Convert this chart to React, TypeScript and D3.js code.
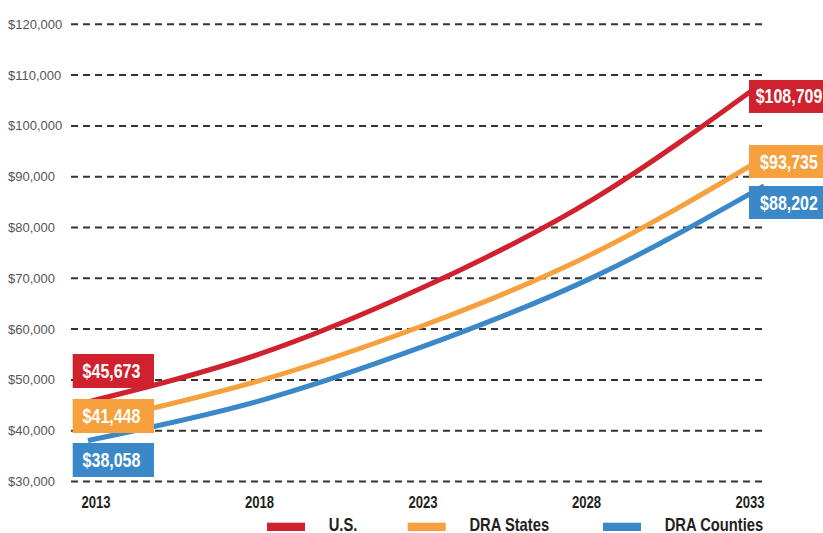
import React from "react";
import * as d3 from "d3";

// ---- data ----
const years = [2013, 2018, 2023, 2028, 2033];
const usValues = [45673, 54920, 68470, 85780, 108709];
const draStatesValues = [41448, 49700, 60910, 75060, 93735];
const draCountiesValues = [38058, 45730, 56780, 70380, 88202];
const seriesNames = ["U.S.", "DRA States", "DRA Counties"];
const yTicks = [30000, 40000, 50000, 60000, 70000, 80000, 90000, 100000, 110000, 120000];
const xTickLabels = ["2013", "2018", "2023", "2028", "2033"];

// ---- layout / style ----
const W = 823;
const H = 533;
const COLORS = ["#CF212E", "#F6A03E", "#3B88C8"];
const SANS = "'Liberation Sans', Arial, Helvetica, sans-serif";
const NARROW_SCALE = 0.82;
// label box offsets relative to line endpoints (layout)
const startOffsets = [-30.9, -7.3, 19.4];
const endOffsets = [14.8, 3.8, 16.7];
const legendX = [267, 407.7, 603];

function NarrowText(props: {
  x: number;
  y: number;
  size: number;
  fill: string;
  anchor?: string;
  children: React.ReactNode;
}) {
  const { x, y, size, fill, anchor, children } = props;
  return (
    <text
      transform={`translate(${x},${y}) scale(${NARROW_SCALE},1)`}
      textAnchor={anchor || "start"}
      fontFamily={SANS}
      fontWeight="bold"
      fontSize={size}
      fill={fill}
    >
      {children}
    </text>
  );
}

export default function App() {
  const x = d3.scaleLinear().domain([2013, 2033]).range([88, 764]);
  const y = d3.scaleLinear().domain([30000, 120000]).range([481.5, 24.3]);
  const xLabel = d3.scaleLinear().domain([2013, 2033]).range([96, 750]);
  const fmt = d3.format("$,");

  const series = [usValues, draStatesValues, draCountiesValues].map((vals, i) => ({
    name: seriesNames[i],
    color: COLORS[i],
    points: years.map((yr, j) => ({ yr, v: vals[j] })),
  }));

  const line = d3
    .line<{ yr: number; v: number }>()
    .x((d) => x(d.yr))
    .y((d) => y(d.v))
    .curve(d3.curveNatural);

  return (
    <svg
      width={W}
      height={H}
      style={{ position: "absolute", left: 0, top: 0, background: "#fff" }}
    >
      {/* gridlines + y labels */}
      {yTicks.map((t) => (
        <g key={t}>
          <line
            x1={71}
            x2={765}
            y1={y(t)}
            y2={y(t)}
            stroke="#333"
            strokeWidth={2}
            strokeDasharray="7,5"
          />
          <text
            x={8}
            y={y(t) + 4.5}
            fontFamily={SANS}
            fontSize={13}
            fill="#555"
          >
            {fmt(t)}
          </text>
        </g>
      ))}

      {/* x labels */}
      {years.map((yr, i) => (
        <NarrowText key={yr} x={xLabel(yr)} y={508.3} size={16} fill="#231f20" anchor="middle">
          {xTickLabels[i]}
        </NarrowText>
      ))}

      {/* lines */}
      {series
        .slice()
        .reverse()
        .map((s) => (
          <path
            key={s.name}
            d={line(s.points) || ""}
            fill="none"
            stroke={s.color}
            strokeWidth={5}
          />
        ))}

      {/* start labels */}
      {series.map((s, i) => {
        const cy = y(s.points[0].v) + startOffsets[i];
        return (
          <g key={"s" + s.name}>
            <rect x={72.7} y={cy - 17} width={81.3} height={34} fill={s.color} />
            <NarrowText x={111.5} y={cy + 7} size={19.5} fill="#fff" anchor="middle">
              {fmt(s.points[0].v)}
            </NarrowText>
          </g>
        );
      })}

      {/* end labels */}
      {series.map((s, i) => {
        const last = s.points[s.points.length - 1];
        const cy = y(last.v) + endOffsets[i];
        return (
          <g key={"e" + s.name}>
            <rect x={749} y={cy - 16.5} width={82} height={33} fill={s.color} />
            <NarrowText x={789} y={cy + 7} size={19.5} fill="#fff" anchor="middle">
              {fmt(last.v)}
            </NarrowText>
          </g>
        );
      })}

      {/* legend */}
      {series.map((s, i) => (
        <g key={"l" + s.name}>
          <rect x={legendX[i]} y={522.7} width={38} height={8.3} fill={s.color} />
          <NarrowText x={legendX[i] + 61.7} y={531.2} size={18} fill="#231f20">
            {s.name}
          </NarrowText>
        </g>
      ))}
    </svg>
  );
}
